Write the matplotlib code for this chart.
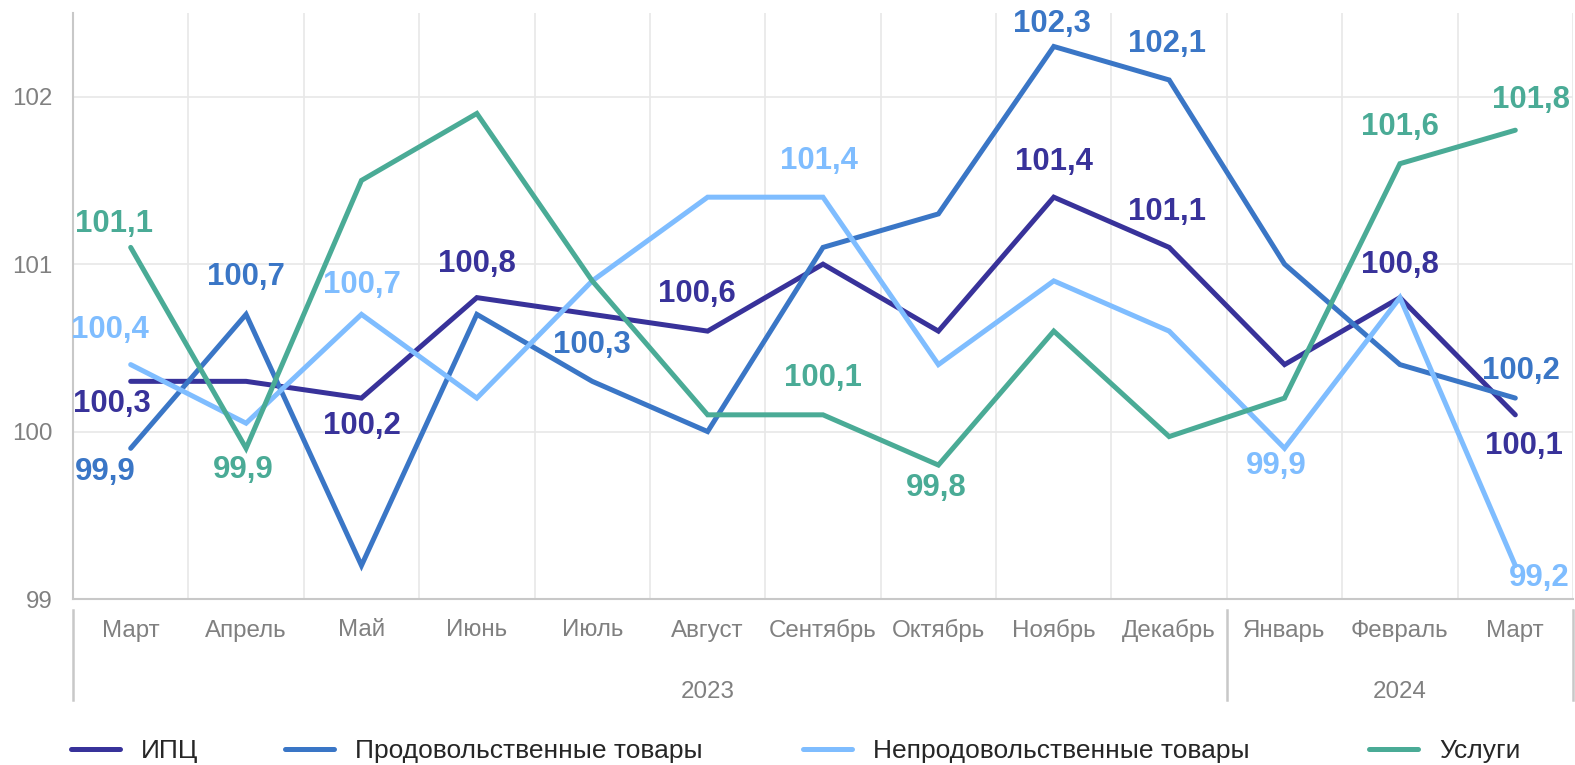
import numpy as np
import matplotlib.pyplot as plt
from matplotlib.transforms import blended_transform_factory

plt.rcParams['font.family'] = ['Liberation Sans', 'DejaVu Sans']

months = ['Март', 'Апрель', 'Май', 'Июнь', 'Июль', 'Август', 'Сентябрь',
          'Октябрь', 'Ноябрь', 'Декабрь', 'Январь', 'Февраль', 'Март']
years = ['2023', '2024']

cpi = [100.3, 100.3, 100.2, 100.8, 100.7, 100.6, 101.0, 100.6, 101.4, 101.1, 100.4, 100.8, 100.1]
food = [99.9, 100.7, 99.2, 100.7, 100.3, 100.0, 101.1, 101.3, 102.3, 102.1, 101.0, 100.4, 100.2]
nonfood = [100.4, 100.05, 100.7, 100.2, 100.9, 101.4, 101.4, 100.4, 100.9, 100.6, 99.9, 100.8, 99.2]
services = [101.1, 99.9, 101.5, 101.9, 100.9, 100.1, 100.1, 99.8, 100.6, 99.97, 100.2, 101.6, 101.8]

names = ['ИПЦ', 'Продовольственные товары', 'Непродовольственные товары', 'Услуги']
colors = ['#38329A', '#3A76C6', '#7FBDFF', '#4AAB96']
series = [cpi, food, nonfood, services]

# which points carry a value label: (series, month index, dx px, dy px)
labels = [
    (0, 0, -19, -23), (3, 0, -17, 23), (2, 0, -21, 35), (1, 0, -25, -24),
    (1, 1, 0, 37), (3, 1, -3, -22),
    (2, 2, 0, 29), (0, 2, 0, -28),
    (0, 3, 0, 34),
    (1, 4, 0, 36),
    (0, 5, -11, 37),
    (2, 6, -4, 36), (3, 6, 0, 37),
    (3, 7, -2, -23),
    (1, 8, -2, 22), (0, 8, 0, 35),
    (1, 9, -2, 36), (0, 9, -2, 35),
    (2, 10, -8, -18),
    (3, 11, 0, 37), (0, 11, 0, 33),
    (3, 12, 16, 30), (1, 12, 6, 27), (0, 12, 9, -31), (2, 12, 24, -12),
]

fig = plt.figure(figsize=(15.75, 7.65), dpi=100)
ax = fig.add_axes([73 / 1575, 1 - 599 / 765, 1500 / 1575, 586 / 765])

x = np.arange(len(months))
handles = []
for vals, name, c in zip(series, names, colors):
    h, = ax.plot(x, vals, color=c, lw=3.6, label=name, solid_joinstyle='miter',
                 solid_capstyle='round', zorder=3)
    handles.append(h)

for s, i, dx, dy in labels:
    v = series[s][i]
    ax.annotate(f'{v:.1f}'.replace('.', ','), (x[i], v), xytext=(dx, dy),
                textcoords='offset pixels', ha='center', va='center',
                fontsize=22.4, fontweight='bold', color=colors[s], zorder=4)

ax.set_xlim(-0.5, len(months) - 0.5)
ax.set_ylim(99, 102.5)
ax.set_yticks([99, 100, 101, 102])
ax.set_xticks(x)
ax.set_xticklabels(months)
ax.set_xticks(np.arange(-0.5, len(months)), minor=True)
ax.grid(True, which='minor', axis='x', color='#E8E8E8', lw=1.2)
ax.grid(True, which='major', axis='y', color='#E8E8E8', lw=1.2)
ax.set_axisbelow(True)
ax.tick_params(axis='both', which='both', length=0, labelsize=17.4, labelcolor='#808080')
ax.tick_params(axis='x', pad=27)
ax.tick_params(axis='y', pad=15)
plt.setp(ax.get_xticklabels(), va='baseline')
for sp in ['top', 'right']:
    ax.spines[sp].set_visible(False)
for sp in ['left', 'bottom']:
    ax.spines[sp].set_color('#C8C8C8')
    ax.spines[sp].set_linewidth(1.5)

# year groups under the months
tr = blended_transform_factory(ax.transData, ax.transAxes)
for xb in [-0.5, 9.5, 12.5]:
    ax.plot([xb, xb], [-0.019, -0.172], transform=tr, color='#C8C8C8', lw=1.8, clip_on=False)
ax.text(5, -0.158, years[0], transform=tr, ha='center', va='center', fontsize=17.4, color='#808080')
ax.text(11, -0.158, years[1], transform=tr, ha='center', va='center', fontsize=17.4, color='#808080')

# legend entries placed one by one, like the original
legend_x = [71, 285, 803, 1369]
for h, lx in zip(handles, legend_x):
    fig.legend(handles=[h], loc='center left', bbox_to_anchor=(lx / 1575, 1 - 751 / 765),
               frameon=False, fontsize=19, handlelength=1.85, handletextpad=0.8,
               borderpad=0, borderaxespad=0, labelcolor='#262626')

fig.savefig('out.png', dpi=100)
